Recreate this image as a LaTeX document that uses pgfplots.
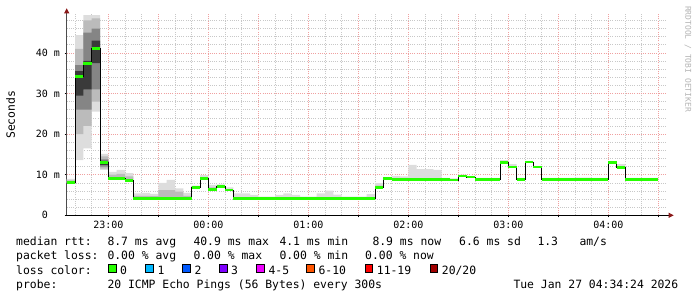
\documentclass[border=0pt]{standalone}
\usepackage{pgfplots}
\pgfplotsset{compat=1.18}
\usepackage{pgfplotstable}
\usepgfplotslibrary{fillbetween}
\usetikzlibrary{arrows.meta}
\usepackage{fontspec}
\setmainfont{DejaVu Sans Mono}
\setmonofont{DejaVu Sans Mono}
\definecolor{lossA}{HTML}{26FF00}
\definecolor{lossB}{HTML}{00B8FF}
\definecolor{lossC}{HTML}{0059FF}
\definecolor{lossD}{HTML}{7E00FF}
\definecolor{lossE}{HTML}{EE00FF}
\definecolor{lossF}{HTML}{FF5500}
\definecolor{lossG}{HTML}{FF0000}
\definecolor{lossH}{HTML}{A10000}
\definecolor{smokeA}{HTML}{DDDDDD}
\definecolor{smokeB}{HTML}{BBBBBB}
\definecolor{smokeC}{HTML}{858585}
\definecolor{smokeD}{HTML}{3A3A3A}
\definecolor{gridgray}{HTML}{C8C8C8}
\definecolor{gridred}{HTML}{F0A0A0}
\definecolor{arrowred}{HTML}{8B1A1A}
\definecolor{wm}{HTML}{B4B4B4}
\pgfplotstableread{
x med l1 h1 l2 h2 l3 h3 l4 h4
35 8.1 7.9 9.0 8.0 8.6 8.1 8.1 8.1 8.1
40 34.2 13.6 44.4 20.0 41.0 26.0 37.0 29.5 35.5
45 37.4 16.5 49.3 22.0 48.0 26.0 45.0 31.0 38.0
50 41.0 25.5 49.3 28.0 48.5 31.0 46.0 37.5 43.0
55 13.0 11.2 15.1 11.5 14.5 12.0 13.8 12.4 13.4
60 9.1 8.9 10.7 9.0 10.0 9.1 9.1 9.1 9.1
65 9.1 8.9 11.2 9.0 10.2 9.1 9.1 9.1 9.1
70 8.6 8.4 10.4 8.5 9.6 8.6 8.6 8.6 8.6
75 4.2 4.0 5.4 4.1 4.8 4.2 4.2 4.2 4.2
80 4.2 4.0 5.5 4.1 4.8 4.2 4.2 4.2 4.2
85 4.2 4.0 5.3 4.1 4.7 4.2 4.2 4.2 4.2
90 4.2 4.0 8.0 4.1 6.2 4.2 4.2 4.2 4.2
95 4.2 4.0 8.7 4.1 6.2 4.2 4.2 4.2 4.2
100 4.2 4.0 6.6 4.1 5.8 4.2 4.2 4.2 4.2
105 4.2 4.0 5.5 4.1 4.8 4.2 4.2 4.2 4.2
110 6.9 6.7 7.3 6.9 6.9 6.9 6.9 6.9 6.9
115 9.0 8.8 9.9 8.9 9.4 9.0 9.0 9.0 9.0
120 6.3 6.1 7.5 6.2 6.9 6.3 6.3 6.3 6.3
125 7.1 6.9 7.6 7.1 7.1 7.1 7.1 7.1 7.1
130 6.2 6.0 6.9 6.2 6.2 6.2 6.2 6.2 6.2
135 4.1 3.9 5.4 4.1 4.1 4.1 4.1 4.1 4.1
140 4.1 3.9 5.4 4.1 4.1 4.1 4.1 4.1 4.1
145 4.1 3.9 5.0 4.1 4.1 4.1 4.1 4.1 4.1
150 4.1 3.9 4.6 4.1 4.1 4.1 4.1 4.1 4.1
155 4.1 3.9 4.6 4.1 4.1 4.1 4.1 4.1 4.1
160 4.1 3.9 5.0 4.1 4.1 4.1 4.1 4.1 4.1
165 4.1 3.9 5.4 4.1 4.1 4.1 4.1 4.1 4.1
170 4.1 3.9 5.0 4.1 4.1 4.1 4.1 4.1 4.1
175 4.1 3.9 4.6 4.1 4.1 4.1 4.1 4.1 4.1
180 4.1 3.9 4.6 4.1 4.1 4.1 4.1 4.1 4.1
185 4.1 3.9 5.4 4.1 4.1 4.1 4.1 4.1 4.1
190 4.1 3.9 6.1 4.1 4.1 4.1 4.1 4.1 4.1
195 4.1 3.9 5.1 4.1 4.1 4.1 4.1 4.1 4.1
200 4.1 3.9 4.6 4.1 4.1 4.1 4.1 4.1 4.1
205 4.1 3.9 4.6 4.1 4.1 4.1 4.1 4.1 4.1
210 4.1 3.9 4.6 4.1 4.1 4.1 4.1 4.1 4.1
215 4.1 3.9 5.2 4.1 4.1 4.1 4.1 4.1 4.1
220 6.9 6.7 7.9 6.8 7.3 6.9 6.9 6.9 6.9
225 9.0 8.8 9.3 9.0 9.0 9.0 9.0 9.0 9.0
230 8.9 8.7 9.7 8.9 8.9 8.9 8.9 8.9 8.9
235 8.9 8.7 9.6 8.9 8.9 8.9 8.9 8.9 8.9
240 8.9 8.7 12.4 8.9 8.9 8.9 8.9 8.9 8.9
245 8.9 8.7 11.4 8.9 8.9 8.9 8.9 8.9 8.9
250 8.9 8.7 11.4 8.9 8.9 8.9 8.9 8.9 8.9
255 8.9 8.7 11.2 8.9 8.9 8.9 8.9 8.9 8.9
260 8.9 8.7 9.2 8.9 8.9 8.9 8.9 8.9 8.9
265 8.7 8.5 9.1 8.7 8.7 8.7 8.7 8.7 8.7
270 9.7 9.5 10.0 9.7 9.7 9.7 9.7 9.7 9.7
275 9.4 9.2 9.7 9.4 9.4 9.4 9.4 9.4 9.4
280 8.9 8.7 9.2 8.9 8.9 8.9 8.9 8.9 8.9
285 8.9 8.7 9.2 8.9 8.9 8.9 8.9 8.9 8.9
290 8.9 8.7 9.2 8.9 8.9 8.9 8.9 8.9 8.9
295 13.0 12.8 13.6 13.0 13.0 13.0 13.0 13.0 13.0
300 11.9 11.7 12.6 11.9 11.9 11.9 11.9 11.9 11.9
305 8.9 8.7 9.2 8.9 8.9 8.9 8.9 8.9 8.9
310 13.1 12.9 13.4 13.1 13.1 13.1 13.1 13.1 13.1
315 11.9 11.7 12.2 11.9 11.9 11.9 11.9 11.9 11.9
320 8.9 8.7 9.2 8.9 8.9 8.9 8.9 8.9 8.9
325 8.9 8.7 9.2 8.9 8.9 8.9 8.9 8.9 8.9
330 8.9 8.7 9.2 8.9 8.9 8.9 8.9 8.9 8.9
335 8.9 8.7 9.2 8.9 8.9 8.9 8.9 8.9 8.9
340 8.9 8.7 9.3 8.9 8.9 8.9 8.9 8.9 8.9
345 8.9 8.7 9.3 8.9 8.9 8.9 8.9 8.9 8.9
350 8.9 8.7 9.2 8.9 8.9 8.9 8.9 8.9 8.9
355 8.9 8.7 9.2 8.9 8.9 8.9 8.9 8.9 8.9
360 13.0 12.8 13.3 13.0 13.0 13.0 13.0 13.0 13.0
365 11.8 11.6 12.6 11.8 11.8 11.8 11.8 11.8 11.8
370 8.9 8.7 9.2 8.9 8.9 8.9 8.9 8.9 8.9
375 8.9 8.7 9.2 8.9 8.9 8.9 8.9 8.9 8.9
380 8.9 8.7 9.2 8.9 8.9 8.9 8.9 8.9 8.9
385 8.9 8.7 9.2 8.9 8.9 8.9 8.9 8.9 8.9
390 8.9 8.7 9.2 8.9 8.9 8.9 8.9 8.9 8.9
}\smoke
\begin{document}
\begin{tikzpicture}[x=1pt,y=1pt]
\path (0,0) rectangle (697,297);
\begin{axis}[
  at={(66.7pt,81.7pt)}, anchor=south west,
  scale only axis, width=600pt, height=201pt,
  xmin=35, xmax=395, ymin=0, ymax=49.5,
  axis lines=left,
  x axis line style={black, line width=0.8pt, shorten >=-7pt, -{Triangle[length=5pt,width=5pt,color=arrowred]}},
  y axis line style={black!70, line width=0.8pt, shorten >=-6pt, -{Triangle[length=5pt,width=5pt,color=arrowred]}},
  xtick={60,90,...,390},
  xticklabels={23:00,,00:00,,01:00,,02:00,,03:00,,04:00,},
  minor xtick={40,50,...,390},
  ytick={0,10,20,30,40},
  yticklabels={0\phantom{ m},10 m,20 m,30 m,40 m},
  minor ytick={2,4,...,48},
  grid=both,
  major grid style={draw=gridred, dash pattern=on 1pt off 1.2pt, line width=0.6pt},
  minor grid style={draw=gridgray, dash pattern=on 1pt off 1.2pt, line width=0.6pt},
  tick align=outside, major tick length=2pt, minor tick length=0pt,
  tick style={black, line width=0.6pt},
  xticklabel style={font=\fontsize{10}{12}\selectfont, anchor=base, inner sep=0pt, yshift=-11pt},
  yticklabel style={font=\fontsize{10}{12}\selectfont, anchor=east, inner sep=0pt, xshift=-4.5pt},
  ylabel={Seconds},
  every axis y label/.append style={at={(axis description cs:-0.0935,0.5)}, anchor=center, font=\fontsize{11.4}{13}\selectfont},
]
\addplot[const plot mark left, draw=none, name path=lA, forget plot] table[x=x,y=l1]{\smoke};
\addplot[const plot mark left, draw=none, name path=hA, forget plot] table[x=x,y=h1]{\smoke};
\addplot[fill=smokeA, draw=none] fill between[of=lA and hA];
\addplot[const plot mark left, draw=none, name path=lB, forget plot] table[x=x,y=l2]{\smoke};
\addplot[const plot mark left, draw=none, name path=hB, forget plot] table[x=x,y=h2]{\smoke};
\addplot[fill=smokeB, draw=none] fill between[of=lB and hB];
\addplot[const plot mark left, draw=none, name path=lC, forget plot] table[x=x,y=l3]{\smoke};
\addplot[const plot mark left, draw=none, name path=hC, forget plot] table[x=x,y=h3]{\smoke};
\addplot[fill=smokeC, draw=none] fill between[of=lC and hC];
\addplot[const plot mark left, draw=none, name path=lD, forget plot] table[x=x,y=l4]{\smoke};
\addplot[const plot mark left, draw=none, name path=hD, forget plot] table[x=x,y=h4]{\smoke};
\addplot[fill=smokeD, draw=none] fill between[of=lD and hD];
\addplot[const plot mark left, black, line width=0.8pt] table[x=x,y=med]{\smoke};
\addplot[jump mark left, lossA, line width=2.7pt] table[x=x,y=med]{\smoke};
\end{axis}
\tikzset{leg/.style={anchor=base west, inner sep=0pt, font=\fontsize{11.4}{13}\selectfont}}
% line 1
\node[leg] at (16,51.3) {median rtt:};
\node[leg] at (107.3,51.3) {8.7 ms avg};
\node[leg] at (193.3,51.3) {40.9 ms max};
\node[leg] at (279.3,51.3) {4.1 ms min};
\node[leg] at (372.3,51.3) {8.9 ms now};
\node[leg] at (459,51.3) {6.6 ms sd};
\node[leg] at (537.3,51.3) {1.3};
\node[leg] at (579.3,51.3) {am/s};
% line 2
\node[leg] at (16,37.1) {packet loss:};
\node[leg] at (107.3,37.1) {0.00 \% avg};
\node[leg] at (193.3,37.1) {0.00 \% max};
\node[leg] at (279.3,37.1) {0.00 \% min};
\node[leg] at (365,37.1) {0.00 \% now};
% line 3
\node[leg] at (16,22.9) {loss color:};
\foreach \bx/\c/\t in {108.3/lossA/0, 145.7/lossB/1, 182.7/lossC/2, 219.3/lossD/3, 256.7/lossE/4-5, 306.7/lossF/6-10, 365/lossG/11-19, 430/lossH/20\slash 20}{
  \filldraw[fill=\c, draw=black, line width=0.6pt] (\bx,25) rectangle ++(7.7,7.7);
  \node[leg] at (\bx+11.7,22.9) {\t};
}
% line 4
\node[leg] at (16,8.7) {probe:};
\node[leg] at (107.3,8.7) {20 ICMP Echo Pings (56 Bytes) every 300s};
\node[leg] at (513.3,8.7) {Tue Jan 27 04:34:24 2026};
% watermark
\node[rotate=-90, inner sep=0pt, font=\fontsize{8}{9}\selectfont, text=wm] at (688,238) {RRDTOOL / TOBI OETIKER};
\end{tikzpicture}
\end{document}
